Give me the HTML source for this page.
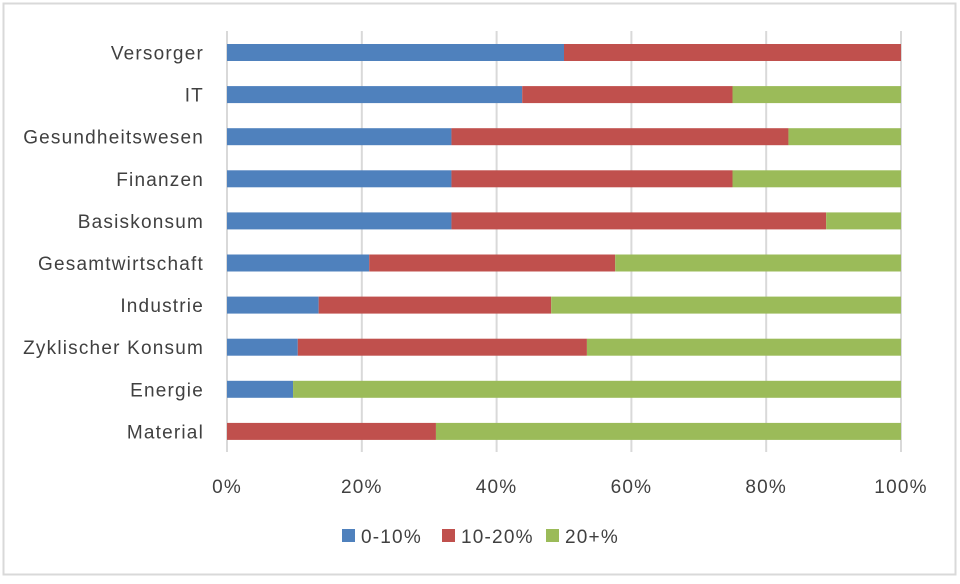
<!DOCTYPE html>
<html><head><meta charset="utf-8"><style>
body{margin:0;background:#fff;}
svg text{font-family:"Liberation Sans",sans-serif;fill:#404040;letter-spacing:1.2px;}
</style></head><body>
<svg id="c" width="960" height="579">
<rect x="3.5" y="3.5" width="952" height="571" fill="#fff" stroke="#d9d9d9" stroke-width="2"/>
<g id="grid"></g><g id="bars"></g><g id="labels"></g><g id="legend"></g>
</svg>
<script>
const categories=["Versorger","IT","Gesundheitswesen","Finanzen","Basiskonsum","Gesamtwirtschaft","Industrie","Zyklischer Konsum","Energie","Material"];
const s1=[50,43.8,33.3,33.3,33.3,21.1,13.6,10.5,9.8,0];
const s2=[50,31.2,50,41.7,55.6,36.5,34.5,42.9,0,31];
const s3=[0,25,16.7,25,11.1,42.4,51.9,46.6,90.2,69];
const seriesNames=["0-10%","10-20%","20+%"];
const colors=["#4f81bd","#c0504d","#9bbb59"];
const ticks=[0,20,40,60,80,100];
const ns="http://www.w3.org/2000/svg";
const x=v=>227+v*6.74;
const yc=i=>52.5+i*42.1;
function mk(t,a,p){const e=document.createElementNS(ns,t);for(const k in a)e.setAttribute(k,a[k]);p.appendChild(e);return e;}
const grid=document.getElementById('grid');
ticks.forEach(t=>{
 const l=mk('line',{x1:x(t),x2:x(t),y1:31,y2:452,stroke:'#d9d9d9','stroke-width':2},grid);
 
 
 const tx=mk('text',{x:x(t),y:493,'text-anchor':'middle','font-size':19},grid);
 tx.textContent=t+'%';
 
 
});
const bars=document.getElementById('bars'),labels=document.getElementById('labels');
const series=[s1,s2,s3];
categories.forEach((c,i)=>{
 let acc=0;
 series.forEach((s,j)=>{
  const v=s[i];
  if(v>0){
   const r=mk('rect',{x:x(acc),y:yc(i)-8.5,width:x(acc+v)-x(acc),height:17,fill:colors[j]},bars);
   
   
  }
  acc+=v;
 });
 const t=mk('text',{x:204,y:yc(i)+7,'text-anchor':'end','font-size':19},labels);
 t.textContent=c;
 
 
});
const lg=document.getElementById('legend');
const lx=[342,442,546];
seriesNames.forEach((n,j)=>{
 const g=mk('g',{},lg);
 
 
 mk('rect',{x:lx[j],y:529,width:13,height:13,fill:colors[j]},g);
 const t=mk('text',{x:lx[j]+19,y:543,'font-size':19},g);
 t.textContent=n;
});
</script>
</body></html>
